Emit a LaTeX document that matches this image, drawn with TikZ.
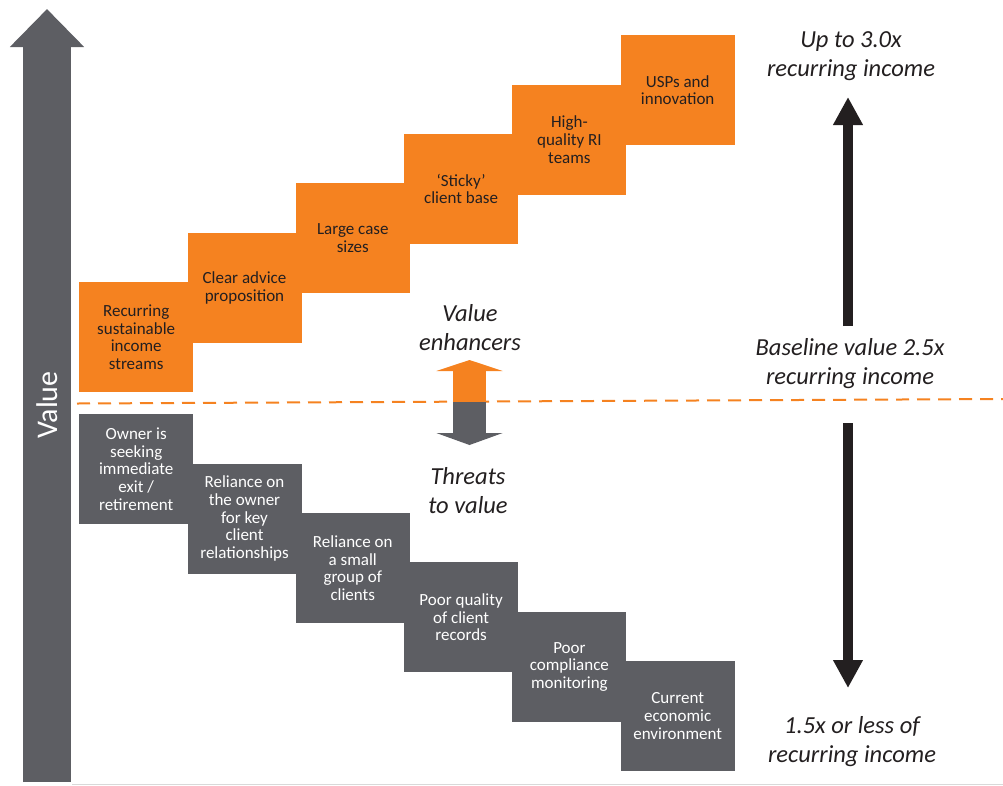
\documentclass[tikz,border=0pt]{standalone}
\usepackage{fontspec}
\setmainfont{Carlito}
\usetikzlibrary{arrows.meta}

\definecolor{enhorange}{HTML}{F58220}
\definecolor{thrgrey}{HTML}{5D5E63}
\definecolor{inkdark}{HTML}{231F20}

\tikzset{
  stepbase/.style={anchor=north west, minimum width=114pt, minimum height=110pt,
    inner sep=0pt, align=center, font=\fontsize{17}{17.7}\selectfont},
  enhbox/.style={stepbase, fill=enhorange, text=inkdark},
  thrbox/.style={stepbase, fill=thrgrey, text=white},
  sidelabel/.style={align=center, text=inkdark, inner sep=0pt,
    font=\itshape\fontsize{24.5}{29}\selectfont},
  bigarrow/.style={line width=10pt, inkdark, -{Triangle[length=28pt, width=28pt]}},
}

\begin{document}
\begin{tikzpicture}[x=1pt, y=-1pt]

% Canvas
\useasboundingbox (0,0) rectangle (1003,785);

% Parameters
\def\stepx{108.3}
\def\stepy{49.4}

% Value axis
\coordinate (axisfoot) at (47,782);
\coordinate (axistip) at (47,9);
\draw[line width=48pt, thrgrey, -{Triangle[length=38pt, width=72pt]}]
  (axisfoot) -- (axistip);
\node[rotate=90, text=white, font=\fontsize{30}{30}\selectfont] (axislabel)
  at (47,405) {Value};

% Baseline
\draw[enhorange, line width=2pt, dash pattern=on 13pt off 8pt]
  (77,403.5) -- (1003,399);

% Value enhancers (steps going up)
\node[enhbox] (enh1) at (79,282) {Recurring\\sustainable\\income\\streams};
\node[enhbox] (enh2) at ({79+\stepx},{282-\stepy}) {Clear advice\\proposition};
\node[enhbox] (enh3) at ({79+2*\stepx},{282-2*\stepy}) {Large case\\sizes};
\node[enhbox] (enh4) at ({79+3*\stepx},{282-3*\stepy}) {‘Sticky’\\client base};
\node[enhbox] (enh5) at ({79+4*\stepx},{282-4*\stepy}) {High-\\quality RI\\teams};
\node[enhbox] (enh6) at ({79+5*\stepx},{282-5*\stepy}) {USPs and\\innovation};

% Threats to value (steps going down)
\node[thrbox] (thr1) at (79,414) {Owner is\\seeking\\immediate\\exit /\\retirement};
\node[thrbox] (thr2) at ({79+\stepx},{414+\stepy}) {Reliance on\\the owner\\for key\\client\\relationships};
\node[thrbox] (thr3) at ({79+2*\stepx},{414+2*\stepy}) {Reliance on\\a small\\group of\\clients};
\node[thrbox] (thr4) at ({79+3*\stepx},{414+3*\stepy}) {Poor quality\\of client\\records};
\node[thrbox] (thr5) at ({79+4*\stepx},{414+4*\stepy}) {Poor\\compliance\\monitoring};
\node[thrbox] (thr6) at ({79+5*\stepx},{414+5*\stepy}) {Current\\economic\\environment};

% Middle up/down arrow
\coordinate (midsplit) at (469.5,402);
\coordinate (midtop) at (469.5,360);
\coordinate (midbot) at (469.5,445);
\draw[line width=33pt, enhorange, -{Triangle[length=11pt, width=66pt]}]
  (midsplit) -- (midtop);
\draw[line width=33pt, thrgrey, -{Triangle[length=12pt, width=66pt]}]
  (midsplit) -- (midbot);
\node[sidelabel] (enhlabel) at (470,328) {Value\\enhancers};
\node[sidelabel] (thrlabel) at (468,491) {Threats\\to value};

% Right-hand scale
\node[sidelabel] (toplabel) at (851,56) {Up to 3.0x\\recurring income};
\node[sidelabel] (baselabel) at (850,364) {Baseline value 2.5x\\recurring income};
\node[sidelabel] (lowlabel) at (852,742) {1.5x or less of\\recurring income};

\coordinate (upfoot) at (848,326);
\coordinate (uptip) at (848,97);
\coordinate (downfoot) at (848,423);
\coordinate (downtip) at (848,688);
\draw[bigarrow] (upfoot) -- (uptip);
\draw[bigarrow] (downfoot) -- (downtip);

% Bottom rule
\draw[gray!30] (72,784) -- (1003,784);

\end{tikzpicture}
\end{document}
